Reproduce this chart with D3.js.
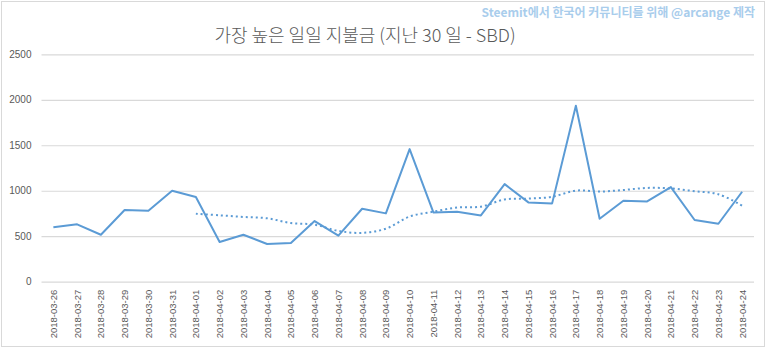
<!DOCTYPE html>
<html><head><meta charset="utf-8">
<script src="https://cdn.jsdelivr.net/npm/d3@7"></script>
<style>body{margin:0;background:#fff;}svg{display:block;}</style>
</head><body>
<svg id="c" width="768" height="349"></svg>
<script>
const dates = ["2018-03-26","2018-03-27","2018-03-28","2018-03-29","2018-03-30","2018-03-31","2018-04-01","2018-04-02","2018-04-03","2018-04-04","2018-04-05","2018-04-06","2018-04-07","2018-04-08","2018-04-09","2018-04-10","2018-04-11","2018-04-12","2018-04-13","2018-04-14","2018-04-15","2018-04-16","2018-04-17","2018-04-18","2018-04-19","2018-04-20","2018-04-21","2018-04-22","2018-04-23","2018-04-24"];
const payouts = [598,631,516,788,780,1000,931,436,516,414,425,667,506,802,751,1458,762,769,729,1073,872,861,1934,692,890,883,1040,678,637,989];
const trendDates = dates.slice(6);
const trendValues = [747,730,712,697,645,627,558,537,583,716,770,815,825,904,914,933,1002,991,1008,1031,1025,995,962,836];
const yTicks = [0,500,1000,1500,2000,2500];
const titleText = "가장 높은 일일 지불금 (지난 30 일 - SBD)";
const creditText = "Steemit에서 한국어 커뮤니티를 위해 @arcange 제작";

const svg = d3.select("#c");
const pL = 41.5, pR = 754, pT = 54.3, pB = 281.7;
const x = d3.scaleBand().domain(dates).range([pL, pR]);
const y = d3.scaleLinear().domain([0, 2500]).range([pB, pT]);
const cx = d => x(d) + x.bandwidth() / 2;

// chart border
svg.append("rect").attr("x", 1.5).attr("y", 1.5).attr("width", 763).attr("height", 345)
  .attr("fill", "#fff").attr("stroke", "#d9d9d9").attr("stroke-width", 1);

// credit
svg.append("text").attr("x", 755).attr("y", 16.5).attr("text-anchor", "end")
  .attr("font-family", "'Noto Sans CJK KR', sans-serif").attr("font-size", 12).attr("font-weight", 700)
  .attr("fill", "#a9cdec").text(creditText);

// title
svg.append("text").attr("x", 365).attr("y", 42).attr("text-anchor", "middle")
  .attr("font-family", "'Noto Sans CJK KR', sans-serif").attr("font-size", 18).attr("font-weight", 300)
  .attr("fill", "#595959").text(titleText);

// grid + y labels
const yAxis = d3.axisLeft(y).tickValues(yTicks).tickFormat(d3.format("d")).tickSize(-(pR - pL)).tickPadding(10);
const gy = svg.append("g").attr("transform", `translate(${pL},0)`).call(yAxis);
gy.select(".domain").remove();
gy.selectAll(".tick line").attr("stroke", "#d9d9d9").attr("stroke-width", 1.2);
gy.selectAll(".tick text").attr("font-family", "'Liberation Sans', Arial, sans-serif").attr("font-size", 10).attr("fill", "#595959");

// x labels
const xAxis = d3.axisBottom(x).tickSize(0).tickPadding(0);
const gx = svg.append("g").attr("transform", `translate(0,${pB})`).call(xAxis);
gx.select(".domain").remove();
gx.selectAll(".tick text")
  .attr("font-family", "'Liberation Sans', Arial, sans-serif").attr("font-size", 9.5).attr("fill", "#595959")
  .attr("text-anchor", "end").attr("dy", null)
  .attr("transform", "translate(3.5,8) rotate(-90)");

// main line
const line = d3.line().x((d, i) => cx(dates[i])).y(d => y(d));
svg.append("path").datum(payouts).attr("d", line).attr("fill", "none")
  .attr("stroke", "#5b9bd5").attr("stroke-width", 2).attr("stroke-linejoin", "round");

// trend (moving average) dotted
const tline = d3.line().x((d, i) => cx(trendDates[i])).y(d => y(d)).curve(d3.curveCatmullRom.alpha(0.5));
svg.append("path").datum(trendValues).attr("d", tline).attr("fill", "none")
  .attr("stroke", "#5b9bd5").attr("stroke-width", 2).attr("stroke-dasharray", "2,3");
</script>
</body></html>
